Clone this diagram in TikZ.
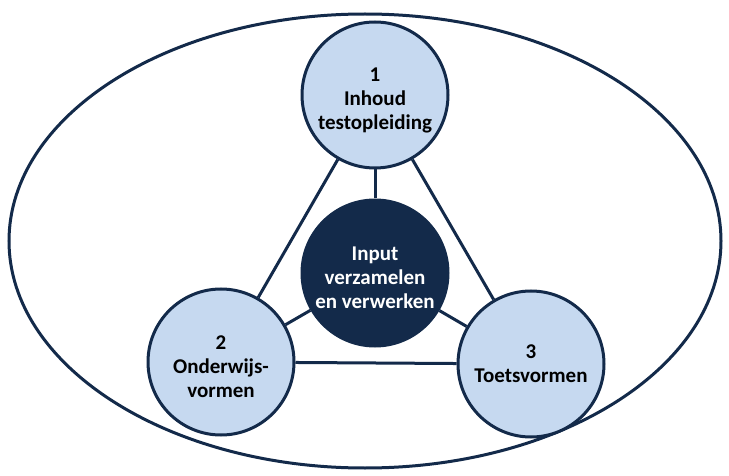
\documentclass[tikz,border=0pt]{standalone}
\usepackage{fontspec}
\setmainfont{Carlito}
\usepackage{tikz}
\usetikzlibrary{positioning}
\definecolor{navy}{HTML}{132A4A}
\definecolor{lightblue}{HTML}{C6D9F0}
\newcommand{\lowline}{\rule{0pt}{24pt}}

\begin{document}
\begin{tikzpicture}[x=1pt,y=-1pt,
  line width=3pt,
  topic/.style={circle,draw=navy,fill=lightblue,minimum size=146pt,inner sep=0pt,
    align=center,font=\fontsize{21}{24}\selectfont\bfseries,text=black},
  core/.style={topic,fill=navy,text=white},
  link/.style={draw=navy,line width=3pt}]
\useasboundingbox (0,0) rectangle (729,476);
% outer field
\draw [navy] (365,241) ellipse [x radius=356pt, y radius=227pt];
% nodes
\node [topic] (inhoud) at (375,95) {\lowline 1\\Inhoud\\testopleiding};
\node [core] (input) at (375,273) {\lowline Input\\verzamelen\\en verwerken};
\node [topic] (onderwijs) at (221,362) {\lowline 2\\Onderwijs-\\vormen};
\node [topic] (toets) at (531,364) {3\\Toetsvormen};
% connectors
\draw [link] (inhoud) -- (input);
\draw [link] (inhoud) -- (onderwijs);
\draw [link] (inhoud) -- (toets);
\draw [link] (onderwijs) -- (toets);
\draw [link] (input) -- (onderwijs);
\draw [link] (input) -- (toets);
\end{tikzpicture}
\end{document}
